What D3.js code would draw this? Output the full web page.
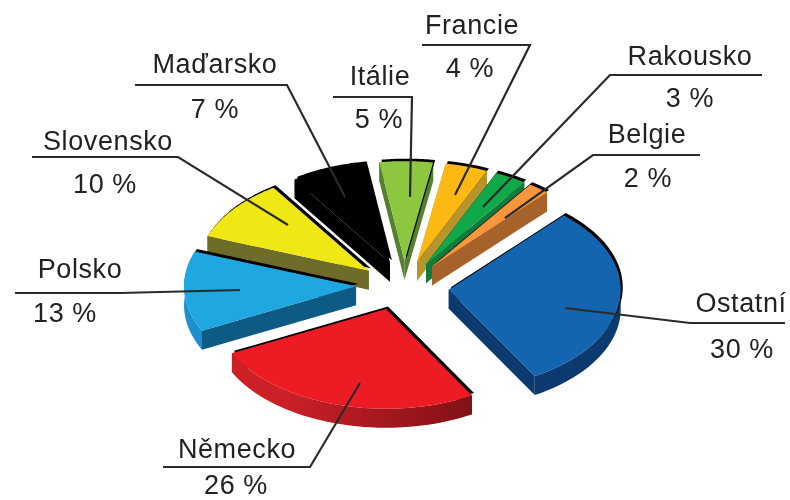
<!DOCTYPE html>
<html lang="cs">
<head>
<meta charset="utf-8">
<title>Podíl zemí</title>
<script src="https://d3js.org/d3.v7.min.js"></script>
<style>
html, body { margin: 0; padding: 0; background: #fff; overflow: hidden; }
svg { display: block; filter: blur(0.6px); }
text { font-family: "Liberation Sans", Arial, sans-serif; font-size: 27px; letter-spacing: 0.6px; fill: #222; text-anchor: middle; }
</style>
</head>
<body>
<script>
// data
var categories = ["Ostatní", "Německo", "Polsko", "Slovensko", "Maďarsko", "Itálie", "Francie", "Rakousko", "Belgie"];
var values = [30, 26, 13, 10, 7, 5, 4, 3, 2];

// colours: top face, side wall, outer rim
var topColors = ["#1265ae", "#ed1c24", "#1ea7e1", "#f0e814", "#000000", "#8dc63f", "#fdb913", "#0fa94a", "#f7963c"];
var wallColors = ["#0d3a6e", "#7a1014", "#0d5a85", "#6f6b28", "#000000", "#55802f", "#b8942c", "#0f7a3a", "#a5622a"];
var rimColors = ["#0d3f78", "#cc2027", "#1d8fcc", "#6f6b28", "#000000", "#55802f", "#b8942c", "#0f7a3a", "#a5622a"];

// back to front
var drawOrder = [4, 5, 6, 7, 8, 3, 2, 1, 0];

// small per-slice shifts on top of the explode
var nudges = [[0, 0], [-5, -3], [-3, -2], [0, 0], [2, 0], [0, 0], [0, 0], [0, 0], [0, 0]];

// label layout: name x/y, percent x/y
var labelPos = [
  [741, 312, 742, 358], [237, 458, 236, 494], [80, 278, 65, 322],
  [108, 150, 105, 193], [215, 73, 215, 118], [380, 85, 379, 128],
  [472, 34, 470, 77], [690, 65, 690, 107], [647, 143, 648, 187]
];
var leaders = [
  [[565, 308], [690, 323], [785, 323]],
  [[360, 383], [310, 467], [163, 467]],
  [[240, 290], [120, 293], [15, 293]],
  [[288, 225], [178, 157], [32, 157]],
  [[345, 197], [287, 85], [135, 85]],
  [[410, 197], [412, 97], [333, 97]],
  [[455, 195], [530, 45], [422, 45]],
  [[483, 207], [610, 75], [762, 75]],
  [[505, 218], [593, 155], [700, 155]]
];

var w = 790, h = 500;
var cx = 404, cy = 287, R = 172, k = 0.58, depth = 19, explode = 45;
var start = 42 * Math.PI / 180;

var svg = d3.select("body").append("svg").attr("width", w).attr("height", h);
var defs = svg.append("defs");

var slices = d3.pie().sort(null).value(function(d) { return d; })
  .startAngle(start).endAngle(start + 2 * Math.PI)(values);

var line = d3.line();

// point on the squashed pie for clock angle a
function pt(o, a, r, dy) {
  return [o[0] + r * Math.sin(a), o[1] - r * Math.cos(a) * k + dy];
}

function arcPoints(o, s, dy) {
  return d3.range(0, 41).map(function(i) {
    return pt(o, s.startAngle + (s.endAngle - s.startAngle) * i / 40, R, dy);
  });
}

var g = svg.append("g");

drawOrder.forEach(function(i) {
  var s = slices[i];
  var mid = (s.startAngle + s.endAngle) / 2;
  var o = pt([cx + nudges[i][0], cy + nudges[i][1]], mid, explode, 0);
  var top = arcPoints(o, s, 0);
  var bottom = arcPoints(o, s, depth);
  var slice = g.append("g");

  var grad = defs.append("linearGradient").attr("id", "rim" + i)
    .attr("gradientUnits", "userSpaceOnUse")
    .attr("x1", o[0] - R).attr("x2", o[0] + R).attr("y1", 0).attr("y2", 0);
  grad.append("stop").attr("offset", "0.2").attr("stop-color", rimColors[i]);
  grad.append("stop").attr("offset", "0.8").attr("stop-color", wallColors[i]);

  // side walls
  [top[0], top[40]].forEach(function(p) {
    slice.append("path")
      .attr("d", line([o, p, [p[0], p[1] + depth], [o[0], o[1] + depth]]) + "Z")
      .attr("fill", wallColors[i]);
  });
  // outer rim
  slice.append("path")
    .attr("d", line(top.concat(bottom.slice().reverse())) + "Z")
    .attr("fill", "url(#rim" + i + ")");

  // dark edge on the upper right, then the top face
  var face = line([o].concat(top)) + "Z";
  slice.append("path").attr("d", face).attr("fill", "#000")
    .attr("transform", "translate(2,-2.5)");
  slice.append("path").attr("d", face).attr("fill", topColors[i]);
});

// leader lines
svg.append("g").selectAll("path").data(leaders).enter().append("path")
  .attr("d", function(d) { return line(d); })
  .attr("fill", "none")
  .attr("stroke", "#2a2a2a")
  .attr("stroke-width", 2.2);

// labels
categories.forEach(function(c, i) {
  var p = labelPos[i];
  svg.append("text").attr("x", p[0]).attr("y", p[1]).text(c);
  svg.append("text").attr("x", p[2]).attr("y", p[3]).text(values[i] + " %");
});
</script>
</body>
</html>
